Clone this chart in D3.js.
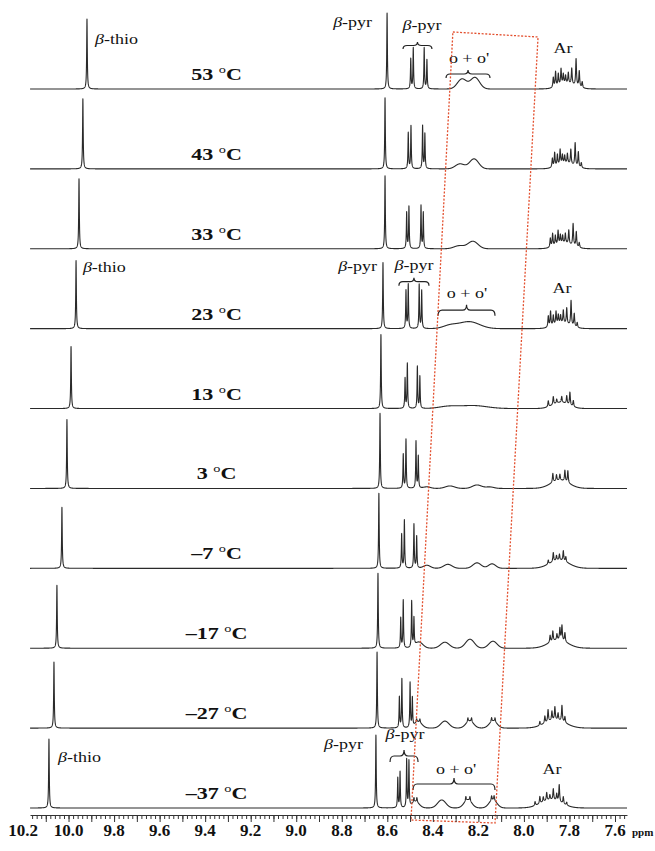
<!DOCTYPE html>
<html>
<head>
<meta charset="utf-8">
<script src="https://cdn.jsdelivr.net/npm/d3@7"></script>
<style>
  body { margin: 0; background: #fff; }
  text { font-family: "Liberation Serif", "Times New Roman", serif; fill: #111; }
</style>
</head>
<body>
<div id="main"></div>
<script>
var svgWidth = 655;
var svgHeight = 851;

// temperatures, top to bottom
var temps = ["53", "43", "33", "23", "13", "3", "–7", "–17", "–27", "–37"];

// beta-thio singlet (ppm, height)
var thioShift  = [9.919, 9.937, 9.954, 9.967, 9.989, 10.007, 10.029, 10.051, 10.064, 10.086];
var thioHeight = [70, 70, 70, 68, 62, 69, 61, 63, 66, 69];

// beta-pyr singlet
var pyrShift  = [8.601, 8.610, 8.610, 8.619, 8.628, 8.632, 8.637, 8.641, 8.645, 8.650];
var pyrHeight = [76, 71, 73, 66, 74, 75, 75, 75, 76, 73];

// beta-pyr AB pair, four lines per spectrum
var pyrPairShift = [
  [8.497, 8.486, 8.438, 8.426],
  [8.508, 8.496, 8.445, 8.435],
  [8.515, 8.505, 8.452, 8.442],
  [8.518, 8.508, 8.460, 8.449],
  [8.522, 8.512, 8.468, 8.457],
  [8.530, 8.518, 8.474, 8.464],
  [8.537, 8.525, 8.483, 8.471],
  [8.541, 8.530, 8.493, 8.483],
  [8.547, 8.536, 8.500, 8.490],
  [8.554, 8.544, 8.515, 8.505]
];
var pyrPairHeight = [
  [30, 41, 41, 29],
  [36, 43, 43, 35],
  [36, 42, 43, 36],
  [38, 44, 44, 38],
  [30, 45, 42, 32],
  [34, 49, 47, 32],
  [34, 48, 44, 32],
  [30, 48, 46, 28],
  [31, 49, 45, 29],
  [30, 36, 48, 46]
];

// o + o' broad humps: [ppm, height, width]
var orthoHumps = [
  [[8.272, 10, 0.02], [8.215, 11.5, 0.02]],
  [[8.281, 5, 0.02], [8.219, 10, 0.02]],
  [[8.285, 3, 0.022], [8.224, 7.5, 0.022]],
  [[8.325, 3, 0.03], [8.241, 7, 0.045]],
  [[8.333, 2, 0.04], [8.224, 3, 0.06]],
  [[8.426, 1.5, 0.015], [8.325, 2.5, 0.02], [8.206, 3.5, 0.02], [8.150, 1.5, 0.018]],
  [[8.426, 3, 0.015], [8.334, 4, 0.018], [8.206, 5.5, 0.018], [8.140, 4.5, 0.016]],
  [[8.461, 6, 0.017], [8.347, 6, 0.019], [8.237, 9, 0.019], [8.136, 7, 0.018]],
  [[8.464, 6, 0.016], [8.347, 7, 0.018], [8.238, 7, 0.017], [8.135, 7, 0.017]],
  [[8.476, 6, 0.016], [8.361, 8, 0.018], [8.246, 8, 0.017], [8.136, 8, 0.017]]
];
// sharp spikes sitting on the o + o' humps: [ppm, height]
var orthoLines = [
  [], [], [], [], [], [], [], [],
  [[8.471, 3.5], [8.457, 3.5], [8.246, 4], [8.230, 4], [8.142, 4], [8.127, 4]],
  [[8.483, 4.5], [8.470, 4.5], [8.255, 4.5], [8.237, 4.5], [8.142, 4.5], [8.131, 4.5]]
];

// Ar multiplet lines: [ppm, height]
var arLines = [
  [[7.871, 10], [7.861, 15], [7.849, 12], [7.837, 16], [7.827, 10], [7.817, 8], [7.805, 11], [7.790, 16], [7.771, 27], [7.757, 16], [7.744, 6]],
  [[7.875, 9], [7.865, 14], [7.853, 11], [7.841, 15], [7.831, 9], [7.821, 8], [7.809, 10], [7.794, 15], [7.775, 23], [7.761, 15], [7.748, 5]],
  [[7.884, 9], [7.874, 13], [7.862, 10], [7.850, 14], [7.840, 9], [7.830, 8], [7.818, 10], [7.803, 14], [7.784, 22], [7.770, 15], [7.757, 5]],
  [[7.893, 11], [7.883, 15], [7.871, 10], [7.859, 13], [7.849, 9], [7.839, 8], [7.827, 13], [7.812, 16], [7.793, 25], [7.779, 13], [7.766, 5]],
  [[7.893, 6], [7.871, 8], [7.856, 4], [7.834, 6], [7.812, 8], [7.798, 13], [7.783, 6]],
  [[7.873, 9], [7.857, 6], [7.842, 6], [7.820, 11], [7.807, 12]],
  [[7.893, 4], [7.871, 9], [7.857, 5], [7.844, 6], [7.827, 10], [7.816, 5]],
  [[7.885, 7], [7.873, 10], [7.855, 6], [7.842, 12], [7.833, 15], [7.820, 9]],
  [[7.930, 4], [7.908, 7], [7.894, 12], [7.877, 9], [7.864, 13], [7.850, 7], [7.833, 16], [7.820, 6]],
  [[7.951, 4], [7.930, 7], [7.915, 5], [7.900, 8], [7.886, 5], [7.871, 11], [7.856, 7], [7.845, 17], [7.827, 7], [7.812, 3]]
];
// Ar envelope: [ppm, height, width]
var arHumps = [
  [[7.810, 5, 0.035]],
  [[7.815, 5, 0.035]],
  [[7.823, 5, 0.035]],
  [[7.832, 5, 0.035]],
  [[7.838, 6, 0.035]],
  [[7.842, 8, 0.04]],
  [[7.845, 8, 0.042]],
  [[7.850, 8, 0.042]],
  [[7.862, 8, 0.045]],
  [[7.880, 8, 0.045]]
];

var tickLabels = ["10.2", "10.0", "9.8", "9.6", "9.4", "9.2", "9.0", "8.8", "8.6", "8.4", "8.2", "8.0", "7.8", "7.6"];

// scales
var x = d3.scaleLinear().domain([10.2, 7.6]).range([23, 615]);
var xLeft = 30, xRight = 627;
var yBase = d3.scalePoint().domain(temps).range([89, 808]);
var yAmp = d3.scaleLinear().domain([0, 100]).range([0, 100]);
var axisY = 815;

var svg = d3.select("#main")
  .append("svg")
  .attr("width", svgWidth)
  .attr("height", svgHeight);

// sum of peaks for one temperature
function spectrum(i) {
  var sharp = [[thioShift[i], thioHeight[i], 0.0016], [pyrShift[i], pyrHeight[i], 0.0016]];
  pyrPairShift[i].forEach(function(p, k) { sharp.push([p, pyrPairHeight[i][k], 0.0016]); });
  orthoLines[i].forEach(function(p) { sharp.push([p[0], p[1], 0.002]); });
  arLines[i].forEach(function(p) { sharp.push([p[0], p[1], 0.0022]); });
  var broad = orthoHumps[i].concat(arHumps[i]);

  var lo = x.invert(xRight), hi = x.invert(xLeft);
  var pts = d3.range(lo, hi, 0.0004).concat(sharp.map(function(s) { return s[0]; }));
  pts.sort(d3.ascending);
  return pts.map(function(v) {
    var s = 0;
    sharp.forEach(function(p) { var d = (v - p[0]) / p[2]; s += p[1] / (1 + d * d); });
    broad.forEach(function(p) { var d = (v - p[0]) / p[2]; s += p[1] * Math.exp(-0.5 * d * d); });
    return [v, s];
  });
}

temps.forEach(function(t, i) {
  var line = d3.line()
    .x(function(d) { return x(d[0]); })
    .y(function(d) { return yBase(t) - yAmp(d[1]); });
  svg.append("path")
    .attr("d", line(spectrum(i)))
    .style("fill", "none")
    .style("stroke", "#2a2a2a")
    .style("stroke-width", 1.1)
    .style("stroke-linejoin", "round");
});

// temperature labels
temps.forEach(function(t) {
  var txt = svg.append("text")
    .attr("transform", "translate(" + x(9.35) + "," + (yBase(t) - 9) + ") scale(1.3,1)")
    .attr("text-anchor", "middle")
    .attr("font-size", 17)
    .attr("font-weight", "bold");
  txt.append("tspan").text(t + " ");
  txt.append("tspan").attr("font-size", 11).attr("font-weight", "normal").attr("dy", -7).text("o");
  txt.append("tspan").attr("dy", 7).text("C");
});

// annotations
function beta(px, py, anchor, rest) {
  var txt = svg.append("text")
    .attr("transform", "translate(" + px + "," + py + ") scale(1.2,1)")
    .attr("text-anchor", anchor)
    .attr("font-size", 15);
  txt.append("tspan").attr("font-style", "italic").text("β");
  txt.append("tspan").text(rest);
}
function plain(px, py, str) {
  svg.append("text")
    .attr("transform", "translate(" + px + "," + py + ") scale(1.2,1)")
    .attr("text-anchor", "middle")
    .attr("font-size", 15)
    .text(str);
}
function brace(p1, p2, yTip, yEnd) {
  var x1 = x(p1), x2 = x(p2), xm = (x1 + x2) / 2, ym = (yTip + yEnd) / 2;
  var r = Math.min(4, (x2 - x1) / 4);
  var d = "M" + x1 + "," + yEnd + " Q" + x1 + "," + ym + " " + (x1 + r) + "," + ym +
    " L" + (xm - r) + "," + ym + " Q" + xm + "," + ym + " " + xm + "," + yTip +
    " Q" + xm + "," + ym + " " + (xm + r) + "," + ym +
    " L" + (x2 - r) + "," + ym + " Q" + x2 + "," + ym + " " + x2 + "," + yEnd;
  svg.append("path").attr("d", d)
    .style("fill", "none").style("stroke", "#222").style("stroke-width", 1.2);
}

var notes = [
  { t: 0, thio: [9.884, -45], pyr: [8.667, -62], pair: [8.448, -59], pairBrace: [8.531, 8.404, -47, -40],
    ortho: [8.241, -26], orthoBrace: [8.342, 8.149, -19, -11], ar: [7.828, -36] },
  { t: 3, thio: [9.937, -57], pyr: [8.645, -58], pair: [8.483, -59], pairBrace: [8.549, 8.417, -51, -43],
    ortho: [8.250, -31], orthoBrace: [8.377, 8.127, -24, -13], ar: [7.833, -36] },
  { t: 9, thio: [10.046, -46], pyr: [8.707, -59], pair: [8.522, -69], pairBrace: [8.588, 8.465, -58, -46],
    ortho: [8.298, -34], orthoBrace: [8.487, 8.127, -30, -18], ar: [7.877, -34] }
];
notes.forEach(function(n) {
  var b = yBase(temps[n.t]);
  beta(x(n.thio[0]), b + n.thio[1], "start", "-thio");
  beta(x(n.pyr[0]), b + n.pyr[1], "end", "-pyr");
  beta(x(n.pair[0]), b + n.pair[1], "middle", "-pyr");
  brace(n.pairBrace[0], n.pairBrace[1], b + n.pairBrace[2], b + n.pairBrace[3]);
  plain(x(n.ortho[0]), b + n.ortho[1], "o + o'");
  brace(n.orthoBrace[0], n.orthoBrace[1], b + n.orthoBrace[2], b + n.orthoBrace[3]);
  plain(x(n.ar[0]), b + n.ar[1], "Ar");
});

// red dotted box around o + o'
var boxPpm = [8.312, 7.938, 8.127, 8.496];
var boxY = [yBase(temps[0]) - 57, yBase(temps[0]) - 52, axisY + 8, axisY + 5];
svg.append("path")
  .attr("d", d3.line()(boxPpm.map(function(p, k) { return [x(p), boxY[k]]; })) + "Z")
  .style("fill", "none")
  .style("stroke", "#e3502f")
  .style("stroke-width", 1.3)
  .style("stroke-dasharray", "2,1.6");

// bottom axis
var xAxisScale = x.copy().domain([x.invert(xLeft), x.invert(xRight)]).range([xLeft, xRight]);
var minorTicks = d3.range(10.16, 7.55, -0.02);
var majorTicks = d3.range(10.1, 7.55, -0.1);
svg.append("g")
  .attr("transform", "translate(0," + axisY + ")")
  .call(d3.axisBottom(xAxisScale).tickValues(minorTicks).tickSize(4).tickSizeOuter(0).tickFormat(""))
  .call(function(g) { g.selectAll("line, path").attr("stroke", "#333"); });
svg.append("g")
  .attr("transform", "translate(0," + axisY + ")")
  .call(d3.axisBottom(xAxisScale).tickValues(majorTicks).tickSize(7).tickSizeOuter(0).tickFormat(""))
  .call(function(g) { g.select(".domain").remove(); g.selectAll("line").attr("stroke", "#333"); });

svg.selectAll(".tick-label")
  .data(tickLabels)
  .enter()
  .append("text")
  .attr("class", "tick-label")
  .attr("x", function(d) { return x(+d); })
  .attr("y", 836)
  .attr("text-anchor", "middle")
  .attr("font-size", 17)
  .attr("font-weight", "bold")
  .text(function(d) { return d; });

svg.append("text")
  .attr("x", 632)
  .attr("y", 836)
  .attr("font-size", 11)
  .attr("font-weight", "bold")
  .text("ppm");
</script>
</body>
</html>
